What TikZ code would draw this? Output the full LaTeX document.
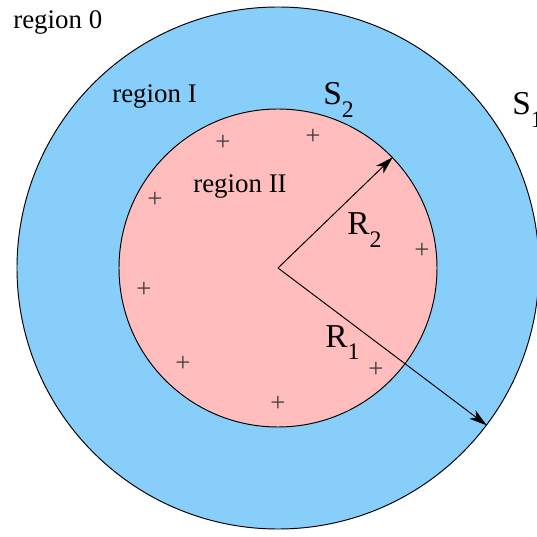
\documentclass[tikz,border=0pt]{standalone}
\usepackage{fontspec}
\setmainfont{Liberation Serif}
\usepackage{xcolor}
\usetikzlibrary{arrows.meta, positioning}
\definecolor{skyfill}{RGB}{135,206,250}
\definecolor{pinkfill}{RGB}{255,189,189}
\newcommand{\lowsub}[1]{\raisebox{-7pt}{\fontsize{13.5pt}{13.5pt}\selectfont #1}}

\begin{document}
\begin{tikzpicture}[>={Stealth[length=.36cm,width=.21cm,inset=.1cm]},
 every node/.style={font=\fontsize{15.3pt}{18pt}\selectfont},
 lbl/.style={inner sep=0pt,anchor=base west},
 big/.style={lbl,font=\fontsize{19pt}{21pt}\selectfont},
 shell/.style={circle,draw,line width=.55pt,inner sep=0pt},
 charge/.style={text=black!75,inner sep=0pt}]
 \useasboundingbox (-5.56,-5.38) rectangle (5.18,5.36);
 \coordinate (o) at (0,0);
 \node[shell,fill=skyfill,minimum size=10.44cm] (s1) at (o) {};
 \node[shell,fill=pinkfill,minimum size=6.36cm] (s2) at (o) {};
 \foreach \n/\x/\y in {a/-1.10/2.50, b/0.70/2.62, c/-2.46/1.36, d/2.88/0.34,
   e/-2.68/-0.44, f/-1.90/-1.92, g/1.96/-2.04, h/0/-2.72}
   \node[charge] (q\n) at (\x,\y) {+};
 \draw[->,line width=.55pt] (o)--(s2.44.5);
 \draw[->,line width=.55pt] (o)--(s1.-37);
 \node[lbl] (r0) at (-5.30,4.78) {region 0};
 \node[lbl] (r1) at (-3.32,3.30) {region I};
 \node[lbl] (r2) at (-1.70,1.50) {region II};
 \node[big] (ls2) at (0.90,3.26) {S\lowsub{2}};
 \node[big] (ls1) at (4.68,3.06) {S\lowsub{1}};
 \node[big] (lr2) at (1.38,0.66) {R\lowsub{2}};
 \node[big] (lr1) at (0.94,-1.58) {R\lowsub{1}};
\end{tikzpicture}
\end{document}
